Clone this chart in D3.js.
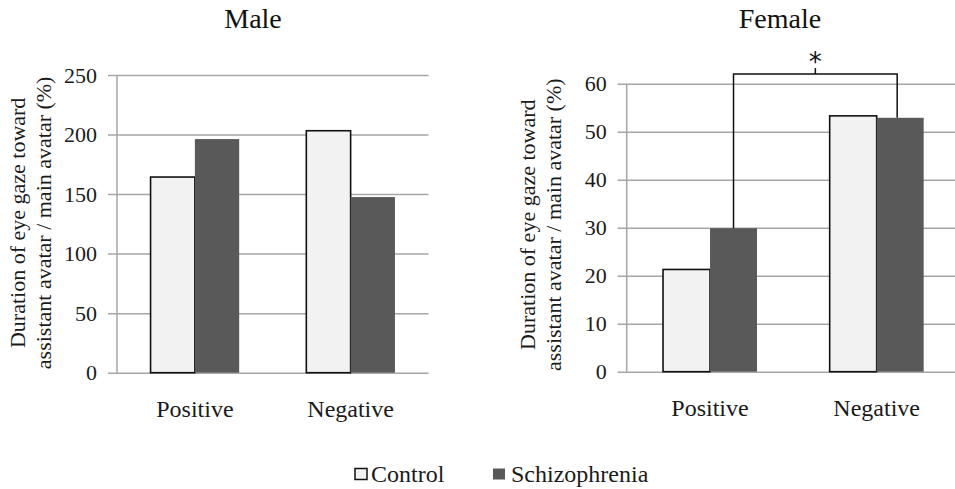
<!DOCTYPE html>
<html>
<head>
<meta charset="utf-8">
<script src="https://cdn.jsdelivr.net/npm/d3@7"></script>
<style>
  body { margin: 0; background: #fff; }
</style>
</head>
<body>
<div id="chart"></div>
<script>
// data
var categories = ['Positive', 'Negative'];
var seriesNames = ['Control', 'Schizophrenia'];
var maleControl = [164.3, 203.2];
var maleSchizo = [196.2, 147.5];
var femaleControl = [21.3, 53.3];
var femaleSchizo = [29.9, 52.9];
var maleTicks = [0, 50, 100, 150, 200, 250];
var femaleTicks = [0, 10, 20, 30, 40, 50, 60];

var colors = { 'Control': '#f2f2f2', 'Schizophrenia': '#595959' };
var gridColor = '#a6a6a6';
var FONT = 'Liberation Serif';

var W = 955, H = 489;
var svg = d3.select('#chart').append('svg')
    .attr('width', W)
    .attr('height', H)
    .attr('font-family', FONT);

function drawPanel(p) {
    var w = p.right - p.left, h = p.bottom - p.top;
    var g = svg.append('g')
        .attr('transform', 'translate(' + p.left + ',' + p.top + ')');

    var y = d3.scaleLinear().domain([0, d3.max(p.ticks)]).range([h, 0]);
    var x = d3.scaleBand().domain(categories).range([0, w])
        .paddingInner(p.pad).paddingOuter(p.pad / 2);
    var xs = d3.scaleBand().domain(seriesNames).range([0, x.bandwidth()]);

    // gridlines + tick labels
    var ax = g.append('g')
        .call(d3.axisLeft(y).tickValues(p.ticks).tickSizeInner(-w).tickSizeOuter(0).tickPadding(20));
    ax.attr('font-family', FONT);
    ax.select('.domain').remove();
    ax.selectAll('.tick line')
        .attr('x1', -9)
        .attr('stroke', gridColor)
        .attr('stroke-width', 1.5);
    ax.selectAll('.tick text')
        .attr('fill', '#1a1a1a')
        .attr('font-family', FONT)
        .attr('font-size', 22);

    g.append('line')
        .attr('x1', 0).attr('x2', 0)
        .attr('y1', y(0)).attr('y2', y(d3.max(p.ticks)))
        .attr('stroke', gridColor)
        .attr('stroke-width', 1.5);

    var rows = categories.map(function(c, i) {
        return { cat: c, vals: [
            { s: 'Control', v: p.control[i] },
            { s: 'Schizophrenia', v: p.schizo[i] }
        ] };
    });

    var grp = g.selectAll('g.cat')
        .data(rows)
        .enter()
            .append('g')
            .attr('class', 'cat')
            .attr('transform', function(d) { return 'translate(' + x(d.cat) + ',0)'; });

    grp.selectAll('rect')
        .data(function(d) { return d.vals; })
        .enter()
            .append('rect')
            .attr('x', function(d) { return xs(d.s); })
            .attr('width', xs.bandwidth())
            .attr('y', function(d) { return y(d.v); })
            .attr('height', function(d) { return y(0) - y(d.v); })
            .attr('fill', function(d) { return colors[d.s]; })
            .attr('stroke', function(d) { return d.s === 'Control' ? '#111' : 'none'; })
            .attr('stroke-width', 1.6);

    // category labels
    g.selectAll('text.cat')
        .data(categories)
        .enter()
            .append('text')
            .attr('class', 'cat')
            .attr('x', function(d) { return x(d) + x.bandwidth() / 2; })
            .attr('y', h + 44)
            .attr('text-anchor', 'middle')
            .attr('fill', '#1a1a1a')
            .attr('font-family', FONT)
            .attr('font-size', 24)
            .text(function(d) { return d; });

    // y axis title, two lines
    var yl = g.append('text')
        .attr('transform', 'translate(' + (-66) + ',' + (y(d3.max(p.ticks) / 2) + p.ylabShift) + ') rotate(-90)')
        .attr('text-anchor', 'middle')
        .attr('fill', '#1a1a1a')
        .attr('font-family', FONT)
        .attr('font-size', 22);
    yl.append('tspan').attr('x', 0).attr('y', -26).text('Duration of eye gaze toward');
    yl.append('tspan').attr('x', 0).attr('y', 0).text('assistant avatar / main avatar (%)');

    svg.append('text')
        .attr('x', p.titleX)
        .attr('y', 28)
        .attr('text-anchor', 'middle')
        .attr('fill', '#111')
        .attr('font-family', FONT)
        .attr('font-size', 28)
        .text(p.title);

    return { g: g, x: x, xs: xs, y: y };
}

drawPanel({
    title: 'Male', titleX: 253,
    left: 117, right: 428.5, top: 75, bottom: 372.7,
    pad: 0.431, ticks: maleTicks, ylabShift: -1,
    control: maleControl, schizo: maleSchizo
});

var fem = drawPanel({
    title: 'Female', titleX: 780,
    left: 626.7, right: 960, top: 83.7, bottom: 371.7,
    pad: 0.436, ticks: femaleTicks, ylabShift: -3,
    control: femaleControl, schizo: femaleSchizo
});

// significance bracket between the two schizophrenia bars
var bx1 = fem.x('Positive') + fem.xs('Schizophrenia') + fem.xs.bandwidth() / 2;
var bx2 = fem.x('Negative') + fem.xs('Schizophrenia') + fem.xs.bandwidth() / 2 - 3;
var btop = fem.y(62);
var mid = (bx1 + bx2) / 2;
fem.g.append('path')
    .attr('d', 'M' + bx1 + ',' + fem.y(femaleSchizo[0]) + 'V' + btop + 'H' + bx2 + 'V' + fem.y(femaleSchizo[1]))
    .attr('fill', 'none')
    .attr('stroke', '#111')
    .attr('stroke-width', 1.5);
fem.g.append('line')
    .attr('x1', mid).attr('x2', mid)
    .attr('y1', btop).attr('y2', btop - 6)
    .attr('stroke', '#111')
    .attr('stroke-width', 1.5);
fem.g.append('text')
    .attr('x', mid)
    .attr('y', btop - 3)
    .attr('text-anchor', 'middle')
    .attr('fill', '#111')
    .attr('font-family', 'DejaVu Sans')
    .attr('font-size', 26)
    .text('*');

// legend
var legend = svg.append('g');
var legX = [355, 493];
seriesNames.forEach(function(s, i) {
    legend.append('rect')
        .attr('x', legX[i])
        .attr('y', 468.5)
        .attr('width', 12)
        .attr('height', 11)
        .attr('fill', colors[s])
        .attr('stroke', s === 'Control' ? '#111' : 'none')
        .attr('stroke-width', 1.5);
    legend.append('text')
        .attr('x', legX[i] + (i === 0 ? 16 : 18))
        .attr('y', 481.5)
        .attr('fill', '#1a1a1a')
        .attr('font-family', FONT)
        .attr('font-size', 24)
        .text(s);
});
</script>
</body>
</html>
